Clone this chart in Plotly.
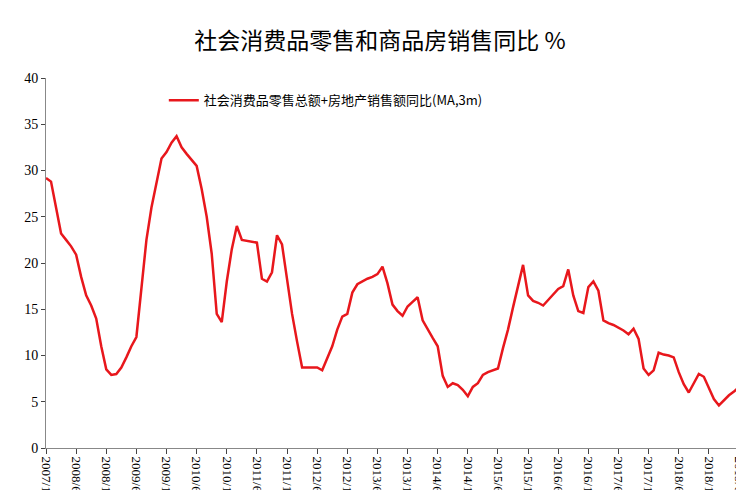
import plotly.graph_objects as go

start_year, start_month = 2007, 12
values = [29.2, 28.8, 26.0, 23.2, 22.5, 21.8, 20.9, 18.5, 16.5, 15.4,
          14.0, 11.0, 8.5, 7.9, 8.0, 8.7, 9.8, 11.0, 12.0, 17.5,
          22.5, 26.0, 28.8, 31.3, 32.0, 33.0, 33.7, 32.5, 31.8, 31.1,
          30.5, 28.0, 25.0, 21.0, 14.5, 13.6, 18.0, 21.5, 24.0, 22.5,
          22.4, 22.3, 22.2, 18.3, 18.0, 19.0, 23.0, 22.0, 18.0, 14.5,
          11.5, 8.7, 8.7, 8.7, 8.7, 8.4, 9.8, 11.0, 12.8, 14.2,
          14.5, 16.8, 17.7, 18.0, 18.3, 18.5, 18.8, 19.6, 17.8, 15.5,
          14.8, 14.3, 15.3, 15.8, 16.3, 13.8, 12.8, 11.9, 11.0, 7.8,
          6.6, 7.0, 6.8, 6.3, 5.6, 6.6, 7.0, 7.9, 8.2, 8.4,
          8.6, 10.8, 12.8, 15.2, 17.6, 19.8, 16.5, 15.9, 15.7, 15.4,
          16.0, 16.6, 17.2, 17.5, 19.3, 16.5, 14.8, 14.6, 17.4, 18.0,
          17.0, 13.8, 13.5, 13.3, 13.0, 12.7, 12.3, 12.9, 11.8, 8.6,
          7.9, 8.4, 10.3, 10.1, 10.0, 9.8, 8.2, 6.9, 6.0, 7.0,
          8.0, 7.7, 6.5, 5.3, 4.6, 5.2, 5.7, 6.1, 6.6]

months = []
y, m = start_year, start_month
for _ in values:
    months.append(f"{y}/{m}")
    m += 1
    if m > 12:
        m = 1
        y += 1

tick_idx = list(range(0, len(months), 6))
tick_vals = [months[i] for i in tick_idx]

series_name = "社会消费品零售总额+房地产销售额同比(MA,3m)"

fig = go.Figure(go.Scatter(x=months, y=values, mode="lines", name=series_name,
                           line=dict(color="#e8171c", width=2.5)))
fig.update_layout(
    width=744, height=490,
    margin=dict(l=38, r=13, t=70, b=50, autoexpand=False),
    plot_bgcolor="white", paper_bgcolor="white",
    title=dict(text="社会消费品零售和商品房销售同比 %", x=0.5, xanchor="center", y=0.95,
               font=dict(family="Noto Sans CJK SC", size=23, color="black")),
    showlegend=True,
    legend=dict(x=0.17, y=0.98, xanchor="left", yanchor="top", bgcolor="rgba(0,0,0,0)",
                font=dict(family="Noto Sans CJK SC", size=13, color="black")),
)
fig.update_xaxes(type="category", tickmode="array", tickvals=tick_vals, ticktext=tick_vals,
                 tickangle=90, ticks="outside", ticklen=5, showline=True, linecolor="#888",
                 showgrid=False, range=[0, len(months) - 1], automargin=False,
                 tickfont=dict(family="Liberation Serif", size=13, color="black"))
fig.update_yaxes(range=[0, 40], dtick=5, ticks="outside", ticklen=4, showline=True,
                 linecolor="#888", showgrid=False, zeroline=False, automargin=False,
                 tickfont=dict(family="Liberation Serif", size=14, color="black"))
fig.write_html("out.html")
